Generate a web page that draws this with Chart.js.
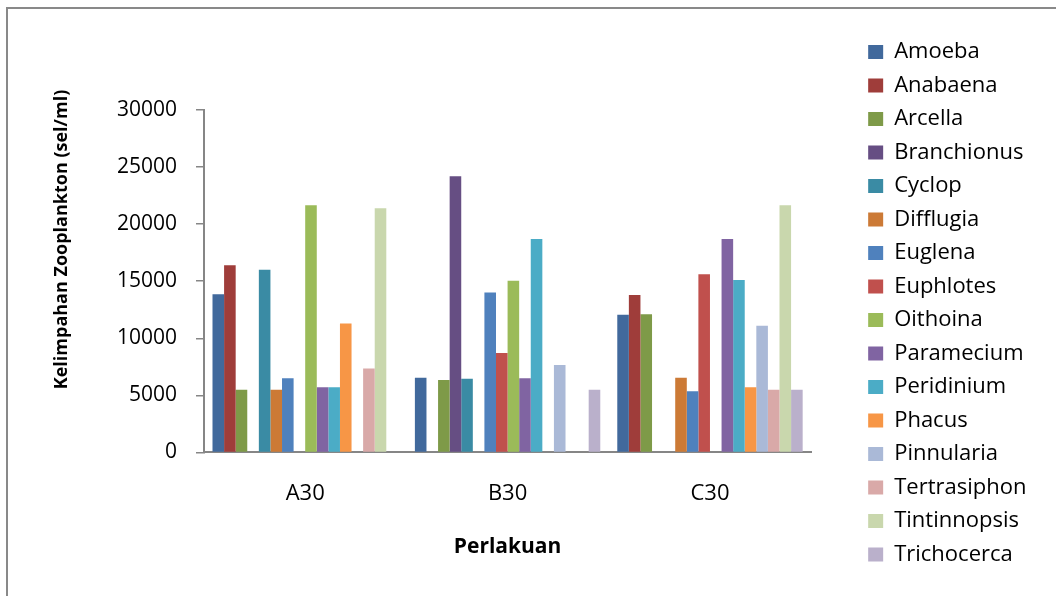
<!DOCTYPE html>
<html>
<head>
<meta charset="utf-8">
<script src="https://cdn.jsdelivr.net/npm/chart.js@4.4.1/dist/chart.umd.min.js"></script>
<style>
  html, body { margin: 0; padding: 0; background: #ffffff; }
  #wrap { position: relative; width: 1056px; height: 596px; }
  canvas { display: block; }
</style>
</head>
<body>
<div id="wrap"><canvas id="c" width="1056" height="596"></canvas></div>
<script>
// ---- Data ----
const categories = ['A30', 'B30', 'C30'];
const seriesNames = ['Amoeba', 'Anabaena', 'Arcella', 'Branchionus', 'Cyclop', 'Difflugia',
  'Euglena', 'Euphlotes', 'Oithoina', 'Paramecium', 'Peridinium', 'Phacus',
  'Pinnularia', 'Tertrasiphon', 'Tintinnopsis', 'Trichocerca'];

const amoeba       = [13850, 6550, 12050];
const anabaena     = [16400, null, 13800];
const arcella      = [5500, 6350, 12100];
const branchionus  = [null, 24200, null];
const cyclop       = [16000, 6450, null];
const difflugia    = [5500, null, 6550];
const euglena      = [6500, 14000, 5350];
const euphlotes    = [null, 8700, 15600];
const oithoina     = [21650, 15050, null];
const paramecium   = [5700, 6500, 18700];
const peridinium   = [5700, 18700, 15100];
const phacus       = [11300, null, 5700];
const pinnularia   = [null, 7650, 11100];
const tertrasiphon = [7350, null, 5500];
const tintinnopsis = [21400, null, 21650];
const trichocerca  = [null, 5500, 5500];

const yTicks = [0, 5000, 10000, 15000, 20000, 25000, 30000];

const seriesValues = [amoeba, anabaena, arcella, branchionus, cyclop, difflugia,
  euglena, euphlotes, oithoina, paramecium, peridinium, phacus,
  pinnularia, tertrasiphon, tintinnopsis, trichocerca];

const seriesColors = ['#41699C', '#9F3D3A', '#7E9A48', '#664E83', '#3A8BA4', '#CC7A36',
  '#4F81BD', '#C0504D', '#9BBB59', '#8064A2', '#4BACC6', '#F79646',
  '#AAB9D7', '#D9A9A8', '#C9D7AD', '#BAB0CB'];

const yTitle = 'Kelimpahan Zooplankton (sel/ml)';
const xTitle = 'Perlakuan';

// ---- Decorations ----
const framePlugin = {
  id: 'frame',
  beforeDraw(chart) {
    const ctx = chart.ctx;
    ctx.save();
    ctx.fillStyle = '#ffffff';
    ctx.fillRect(0, 0, chart.width, chart.height);
    ctx.strokeStyle = '#898989';
    ctx.lineWidth = 2;
    ctx.beginPath();
    ctx.moveTo(7, chart.height + 5);
    ctx.lineTo(7, 8);
    ctx.lineTo(chart.width + 5, 8);
    ctx.stroke();
    ctx.restore();
  }
};

const yTitlePlugin = {
  id: 'yTitle',
  afterDraw(chart) {
    const ctx = chart.ctx;
    ctx.save();
    ctx.translate(62, 239.5);
    ctx.rotate(-Math.PI / 2);
    ctx.font = "bold 18px 'Open Sans'";
    ctx.fillStyle = '#000000';
    ctx.textAlign = 'center';
    ctx.textBaseline = 'middle';
    ctx.fillText(yTitle, 0, 0);
    ctx.restore();
  }
};

function build() {
  Chart.defaults.font.family = "'Open Sans', sans-serif";
  Chart.defaults.color = '#000000';

  const datasets = seriesNames.map((name, i) => ({
    label: name,
    data: seriesValues[i],
    backgroundColor: seriesColors[i],
    borderWidth: 0,
    categoryPercentage: 0.916,
    barPercentage: 1.0
  }));

  new Chart(document.getElementById('c'), {
    type: 'bar',
    data: { labels: categories, datasets },
    plugins: [framePlugin, yTitlePlugin],
    options: {
      responsive: false,
      animation: false,
      devicePixelRatio: 1,
      layout: { padding: { left: 0, right: 28, top: 10.5, bottom: 0 } },
      plugins: {
        title: {
          display: true,
          text: '',
          font: { size: 10 },
          padding: { top: 87.5, bottom: 0 }
        },
        tooltip: { enabled: false },
        legend: {
          position: 'right',
          align: 'center',
          labels: {
            boxWidth: 15,
            boxHeight: 14,
            padding: 11.5,
            font: { size: 22 },
            color: '#000000'
          }
        }
      },
      scales: {
        x: {
          grid: { display: false, drawTicks: false },
          border: { display: true, color: '#868686', width: 2 },
          ticks: { padding: 28, font: { size: 22 }, color: '#000000' },
          title: {
            display: true,
            text: xTitle,
            font: { size: 21, weight: 'bold' },
            color: '#000000',
            padding: { top: 0, bottom: 36 }
          }
        },
        y: {
          min: 0,
          max: 30000,
          afterBuildTicks: (s) => { s.ticks = yTicks.map(v => ({ value: v })); },
          afterFit: (s) => { s.width = 204; },
          grid: { display: true, drawOnChartArea: false, drawTicks: true, tickLength: 8, color: '#868686', lineWidth: 1.5 },
          border: { display: true, color: '#868686', width: 2 },
          ticks: { padding: 19, font: { size: 21 }, color: '#000000', callback: (v) => String(v) }
        },
        yRight: {
          position: 'right',
          display: true,
          min: 0,
          max: 30000,
          grid: { display: false, drawTicks: false },
          border: { display: false },
          ticks: { display: false },
          afterFit: (s) => { s.width = 45.5; }
        }
      }
    }
  });
}

const fontLoads = [
  document.fonts.load("22px 'Open Sans'"),
  document.fonts.load("bold 21px 'Open Sans'")
];
Promise.all(fontLoads).then(build, build);
</script>
</body>
</html>
